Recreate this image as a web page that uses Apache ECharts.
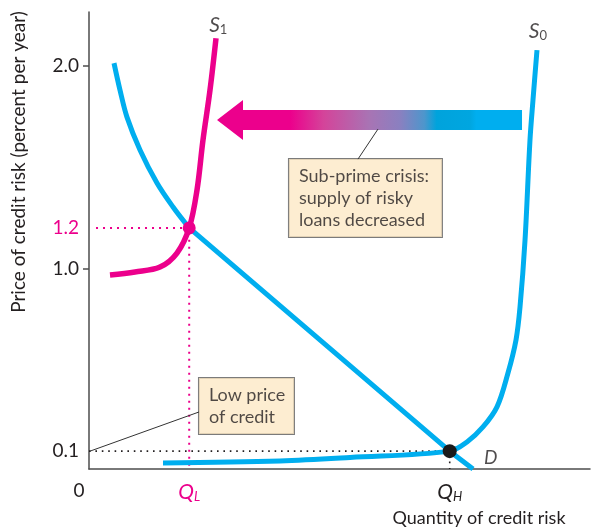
<!DOCTYPE html>
<html><head><meta charset="utf-8">
<script src="https://cdn.jsdelivr.net/npm/echarts@6/dist/echarts.min.js"></script>
<style>html,body{margin:0;padding:0;background:#fff}#c{width:594px;height:531px}</style>
</head><body><div id="c"></div>
<script>
// ---- data (quantity of credit risk, price in percent per year) ----
const demandCurve = [[4.99,2.012],[6.19,1.879],[7.58,1.746],[10.18,1.584],[13.57,1.421],[16.77,1.303],[20,1.2]];
const demandLine = [[20,1.2],[72,0.1],[76.65,0.012]];
const supplyS1 = [[4.19,0.968],[9.18,0.983],[14.17,1.007],[17.56,1.076],[20,1.2],[21.56,1.387],[22.75,1.633],[24.15,1.879],[25.35,2.135]];
const supplyS0 = [[14.77,0.042],[38.12,0.052],[52.1,0.069],[72,0.1],[75.45,0.145],[78.64,0.219],[81.44,0.318],[83.63,0.485],[85.23,0.648],[86.03,0.810],[87.03,1.140],[88.02,1.633],[88.62,1.830],[89.42,2.076]];
const yTickLabels = [0.1, 1.0, 1.2, 2.0];
const yTickMarks = [1.0, 2.0];
const xTickLabels = [0, 20, 72];
const eqLow = [20, 1.2];
const eqHigh = [72, 0.1];
const arrowFrom = [86.43, 1.7315];
const arrowTo = [25.55, 1.7315];

const FONT = 'Lato, "Noto Sans", sans-serif';
const TXT = '#231f20';
const CYAN = '#00aeef';
const MAG = '#ec008c';
const Y0 = 0.012;

const chart = echarts.init(document.getElementById('c'), null, {renderer:'canvas'});

function boxLabel(text, w) {
  return {show:true, position:[0,0], formatter:text, fontFamily:FONT, fontSize:18, lineHeight:22,
    color:TXT, backgroundColor:'#fde8c6', borderColor:'#5a5a5a', borderWidth:1, padding:[6,10,6,10], width:w};
}
function curveLabel(main, sub) {
  return {show:true, position:'inside', formatter:'{s|'+main+'}{b|'+sub+'}',
    fontFamily:FONT, fontStyle:'italic', fontSize:21, color:TXT,
    rich:{s:{fontFamily:FONT, fontStyle:'italic', fontSize:21, color:TXT, lineHeight:22},
          b:{fontFamily:FONT, fontStyle:'normal', fontSize:13, color:TXT, lineHeight:10, verticalAlign:'bottom'}}};
}

const option = {
  animation:false,
  grid:{left:89, right:4, top:12, bottom:62},
  xAxis:{type:'value', min:0, max:100,
    axisLine:{show:true, lineStyle:{color:'#4d4d4d', width:1.5}},
    splitLine:{show:false}, axisTick:{show:false},
    axisLabel:{show:true, customValues:xTickLabels, margin:12, fontFamily:FONT, fontSize:20, color:TXT,
      formatter:function(v){ if (v===0) return '{z|0}'; if (v===20) return '{ql|Q}{qls|L}'; return '{qh|Q}{qhs|H}'; },
      rich:{z:{fontFamily:FONT, fontStyle:'normal', fontSize:19, color:TXT, padding:[0,20,0,0]},
            ql:{fontFamily:FONT, fontStyle:'italic', fontSize:21, color:MAG, lineHeight:22},
            qls:{fontFamily:FONT, fontStyle:'italic', fontSize:13, color:MAG, lineHeight:10, verticalAlign:'bottom'},
            qh:{fontFamily:FONT, fontStyle:'italic', fontSize:21, color:TXT, lineHeight:22},
            qhs:{fontFamily:FONT, fontStyle:'italic', fontSize:13, color:TXT, lineHeight:10, verticalAlign:'bottom'}}}
  },
  yAxis:{type:'value', min:Y0, max:2.264,
    axisLine:{show:true, lineStyle:{color:'#4d4d4d', width:1.5}},
    splitLine:{show:false},
    axisTick:{show:true, customValues:yTickMarks, length:6, lineStyle:{color:'#4d4d4d', width:1.5}},
    axisLabel:{show:true, customValues:yTickLabels, margin:10, fontFamily:FONT, fontSize:19,
      formatter:function(v){ return Math.abs(v-1.2)<1e-6 ? '{m|1.2}' : '{n|'+v.toFixed(1)+'}'; },
      rich:{m:{fontFamily:FONT, fontSize:19, color:MAG}, n:{fontFamily:FONT, fontSize:19, color:TXT}}}
  },
  graphic:[
    {type:'text', x:19, y:162, rotation:Math.PI/2, style:{text:'Price of credit risk (percent per year)', font:'19px '+FONT, fill:TXT, align:'center', verticalAlign:'middle'}},
    {type:'text', x:479, y:518, style:{text:'Quantity of credit risk', font:'18px '+FONT, fill:TXT, align:'center', verticalAlign:'middle'}}
  ],
  series:[
    {type:'line', data:[[1.4,eqLow[1]], eqLow, [eqLow[0],Y0]], symbol:'none', silent:true,
      lineStyle:{color:MAG, width:2, type:[2,5]}},
    {type:'line', data:[[0,eqHigh[1]], eqHigh, [eqHigh[0],Y0]], symbol:'none', silent:true,
      lineStyle:{color:'#231f20', width:1.6, type:[1.6,4.8]}},
    {type:'line', data:[[0.2,0.1],[21.96,0.293]], symbol:'none', silent:true, lineStyle:{color:'#333', width:1}},
    {type:'line', data:[[53.69,1.539],[57.68,1.687]], symbol:'none', silent:true, lineStyle:{color:'#333', width:1}},
    {type:'line', name:'S0', data:supplyS0, symbol:'none', smooth:0.35, silent:true, lineStyle:{color:CYAN, width:5}},
    {type:'line', name:'D', data:demandCurve, symbol:'none', smooth:0.35, silent:true, lineStyle:{color:CYAN, width:5}},
    {type:'line', name:'D line', data:demandLine, symbol:'none', silent:true, lineStyle:{color:CYAN, width:5}},
    {type:'line', name:'S1', data:supplyS1, symbol:'none', smooth:0.35, silent:true, lineStyle:{color:MAG, width:5.5}},
    {type:'scatter', silent:true, z:10, data:[{value:eqLow, itemStyle:{color:MAG, opacity:1}, symbolSize:13},{value:eqHigh, itemStyle:{color:'#1a1a1a', opacity:1}, symbolSize:14}]},
    {type:'custom', silent:true, data:[arrowTo],
      renderItem:function(params, api){
        const tip = api.coord(arrowTo), tail = api.coord(arrowFrom);
        const hs=10, hh=20, hl=26;
        const y = tip[1];
        const pts = [[tip[0],y],[tip[0]+hl,y-hh],[tip[0]+hl,y-hs],[tail[0],y-hs],[tail[0],y+hs],[tip[0]+hl,y+hs],[tip[0]+hl,y+hh]];
        return {type:'polygon', shape:{points:pts},
          style:{fill:new echarts.graphic.LinearGradient(tip[0],0,tail[0],0,[
            {offset:0,color:MAG},{offset:0.24,color:MAG},{offset:0.35,color:'#d4449a'},{offset:0.5,color:'#a874b4'},
            {offset:0.6,color:'#8a80c0'},{offset:0.68,color:'#4d96cc'},{offset:0.72,color:'#00a3dc'},{offset:0.83,color:'#00a6e0'},
            {offset:0.85,color:CYAN},{offset:1,color:CYAN}], true)}};
      }},
    {type:'scatter', silent:true, symbolSize:0.1, itemStyle:{color:'rgba(0,0,0,0)'},
      data:[{value:[39.92,1.539], label:boxLabel('Sub-prime crisis:\nsupply of risky\nloans decreased',133)},
            {value:[21.96,0.46], label:boxLabel('Low price\nof credit',75)}]},
    {type:'scatter', silent:true, symbolSize:0.1, itemStyle:{color:'rgba(0,0,0,0)'},
      data:[{value:[25.8,2.2], label:curveLabel('S','1')},
            {value:[89.6,2.17], label:curveLabel('S','0')},
            {value:[80.2,0.068], label:{show:true, position:'inside', formatter:'D', fontFamily:FONT, fontStyle:'italic', fontSize:19, color:TXT}}]}
  ]
};
chart.setOption(option);
</script></body></html>
